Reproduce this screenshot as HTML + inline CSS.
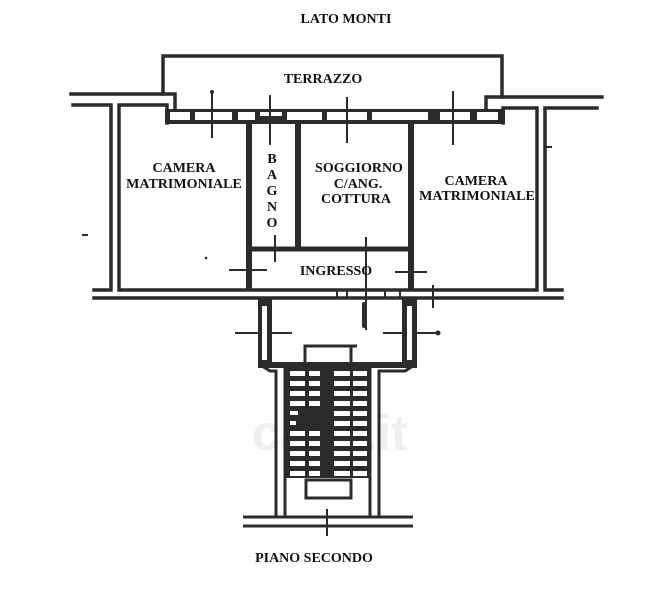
<!DOCTYPE html>
<html><head><meta charset="utf-8"><style>
html,body{margin:0;padding:0;background:#fff;}
svg{display:block;}
text{font-family:"Liberation Serif",serif;font-weight:bold;font-size:14px;fill:#111;}
</style></head><body>
<svg width="663" height="600" viewBox="0 0 663 600" xmlns="http://www.w3.org/2000/svg">
<rect width="663" height="600" fill="#fff"/>
<!-- watermark -->
<text x="330" y="450" text-anchor="middle" style="font-family:'Liberation Sans',sans-serif;font-size:50px;font-weight:bold;fill:#000;opacity:0.06">casa.it</text>

<g stroke="#2b2b2b" stroke-width="3.5" fill="none" stroke-linecap="square" stroke-linejoin="miter">
  <!-- terrazzo -->
  <polyline points="163,94 163,56 502,56 502,97"/>
  <!-- outer top lines -->
  <polyline points="71,94 175,94 175,110"/>
  <polyline points="486,110 486,97 602,97"/>
  <!-- left wall -->
  <polyline points="73,105 111,105 111,290 94,290"/>
  <polyline points="167,123 167,105 119,105 119,290 537,290 537,108 503,108 503,123"/>
  <polyline points="597,108 545,108 545,290 562,290"/>
  <line x1="94" y1="298" x2="562" y2="298"/>
</g>

<!-- window band -->
<rect x="165" y="109" width="340" height="15" fill="#2b2b2b"/>
<g fill="#fff">
  <rect x="170" y="112" width="20" height="8"/>
  <rect x="195" y="112" width="37" height="8"/>
  <rect x="238" y="112" width="17" height="8"/>
  <rect x="260" y="112" width="22" height="4"/>
  <rect x="287" y="112" width="35" height="8"/>
  <rect x="327" y="112" width="40" height="8"/>
  <rect x="372" y="112" width="56" height="8"/>
  <rect x="440" y="112" width="30" height="8"/>
  <rect x="477" y="112" width="21" height="8"/>
</g>
<circle cx="436" cy="116" r="3" fill="none" stroke="#2b2b2b" stroke-width="1.5"/>

<!-- interior walls -->
<g stroke="#2b2b2b" fill="none">
  <line x1="249" y1="123" x2="249" y2="291" stroke-width="6"/>
  <line x1="298" y1="123" x2="298" y2="250" stroke-width="6"/>
  <line x1="249" y1="249" x2="411" y2="249" stroke-width="5"/>
  <line x1="411" y1="123" x2="411" y2="291" stroke-width="6"/>
</g>

<!-- ticks -->
<g stroke="#2b2b2b" stroke-width="2" fill="none">
  <line x1="212" y1="90" x2="212" y2="138"/>
  <line x1="270" y1="95" x2="270" y2="145"/>
  <line x1="347" y1="97" x2="347" y2="143"/>
  <line x1="453" y1="91" x2="453" y2="145"/>
  <line x1="275" y1="235" x2="275" y2="262"/>
  <line x1="366" y1="237" x2="366" y2="330"/>
  <line x1="229" y1="270" x2="267" y2="270"/>
  <line x1="395" y1="272" x2="427" y2="272"/>
  <line x1="433" y1="285" x2="433" y2="308"/>
  <line x1="337" y1="290" x2="337" y2="298"/>
  <line x1="347" y1="290" x2="347" y2="298"/>
  <line x1="385" y1="290" x2="385" y2="298"/>
  <line x1="400" y1="290" x2="400" y2="298"/>
  <line x1="235" y1="333" x2="292" y2="333"/>
  <line x1="383" y1="333" x2="436" y2="333"/>
  <line x1="545" y1="147" x2="552" y2="147"/>
  <line x1="82" y1="235" x2="88" y2="235"/>
  <line x1="327" y1="509" x2="327" y2="536"/>
</g>
<line x1="364" y1="304" x2="364" y2="326" stroke="#2b2b2b" stroke-width="4" stroke-linecap="round"/>
<circle cx="438" cy="333" r="2.5" fill="#2b2b2b"/>
<circle cx="212" cy="92" r="2" fill="#2b2b2b"/>
<circle cx="206" cy="258" r="1.3" fill="#2b2b2b"/>

<!-- landing -->
<rect x="258" y="298" width="14" height="70" fill="#2b2b2b"/>
<rect x="262" y="306" width="5" height="54" fill="#fff"/>
<rect x="402" y="298" width="15" height="70" fill="#2b2b2b"/>
<rect x="407" y="306" width="5" height="54" fill="#fff"/>
<rect x="258" y="362" width="159" height="6" fill="#2b2b2b"/>
<polyline points="305,363 305,346 357,346" fill="none" stroke="#2b2b2b" stroke-width="3"/>
<line x1="351" y1="346" x2="351" y2="363" stroke="#2b2b2b" stroke-width="3"/>

<!-- stair walls -->
<g stroke="#2b2b2b" stroke-width="3" fill="none">
  <polyline points="262,366 270,371 276,371 276,517"/>
  <line x1="285" y1="368" x2="285" y2="517"/>
  <line x1="370" y1="368" x2="370" y2="517"/>
  <polyline points="413,366 405,371 379,371 379,517"/>
  <line x1="243" y1="517" x2="413" y2="517"/>
  <line x1="243" y1="526" x2="413" y2="526"/>
</g>

<!-- stair treads -->
<rect x="286" y="368" width="84" height="110" fill="#2b2b2b"/>
<g fill="#fff">
  <rect x="290" y="371" width="15" height="5"/><rect x="309" y="371" width="11" height="5"/><rect x="334" y="371" width="16" height="5"/><rect x="353" y="371" width="14" height="5"/>
  <rect x="290" y="381" width="15" height="5"/><rect x="309" y="381" width="11" height="5"/><rect x="334" y="381" width="16" height="5"/><rect x="353" y="381" width="14" height="5"/>
  <rect x="290" y="391" width="15" height="5"/><rect x="309" y="391" width="11" height="5"/><rect x="334" y="391" width="16" height="5"/><rect x="353" y="391" width="14" height="5"/>
  <rect x="290" y="401" width="15" height="5"/><rect x="309" y="401" width="11" height="5"/><rect x="334" y="401" width="16" height="5"/><rect x="353" y="401" width="14" height="5"/>
  <rect x="290" y="411" width="8" height="4"/><rect x="334" y="411" width="16" height="5"/><rect x="353" y="411" width="14" height="5"/>
  <rect x="290" y="421" width="6" height="4"/><rect x="334" y="421" width="16" height="5"/><rect x="353" y="421" width="14" height="5"/>
  <rect x="290" y="431" width="15" height="5"/><rect x="309" y="431" width="11" height="5"/><rect x="334" y="431" width="16" height="5"/><rect x="353" y="431" width="14" height="5"/>
  <rect x="290" y="441" width="15" height="5"/><rect x="309" y="441" width="11" height="5"/><rect x="334" y="441" width="16" height="5"/><rect x="353" y="441" width="14" height="5"/>
  <rect x="290" y="451" width="15" height="5"/><rect x="309" y="451" width="11" height="5"/><rect x="334" y="451" width="16" height="5"/><rect x="353" y="451" width="14" height="5"/>
  <rect x="290" y="461" width="15" height="5"/><rect x="309" y="461" width="11" height="5"/><rect x="334" y="461" width="16" height="5"/><rect x="353" y="461" width="14" height="5"/>
  <rect x="290" y="471" width="15" height="5"/><rect x="309" y="471" width="11" height="5"/><rect x="334" y="471" width="16" height="5"/><rect x="353" y="471" width="14" height="5"/>
</g>
<rect x="306" y="480" width="45" height="18" fill="#fff" stroke="#2b2b2b" stroke-width="3"/>

<!-- labels -->
<text x="346" y="23" text-anchor="middle">LATO MONTI</text>
<text x="323" y="83" text-anchor="middle">TERRAZZO</text>
<text x="184" y="172" text-anchor="middle">CAMERA</text>
<text x="184" y="188" text-anchor="middle">MATRIMONIALE</text>
<text x="272" y="163" text-anchor="middle">B</text>
<text x="272" y="179" text-anchor="middle">A</text>
<text x="272" y="195" text-anchor="middle">G</text>
<text x="272" y="211" text-anchor="middle">N</text>
<text x="272" y="227" text-anchor="middle">O</text>
<text x="359" y="172" text-anchor="middle">SOGGIORNO</text>
<text x="358" y="188" text-anchor="middle">C/ANG.</text>
<text x="356" y="203" text-anchor="middle">COTTURA</text>
<text x="476" y="185" text-anchor="middle">CAMERA</text>
<text x="477" y="200" text-anchor="middle">MATRIMONIALE</text>
<text x="336" y="275" text-anchor="middle">INGRESSO</text>
<text x="314" y="562" text-anchor="middle">PIANO SECONDO</text>
</svg>
</body></html>
